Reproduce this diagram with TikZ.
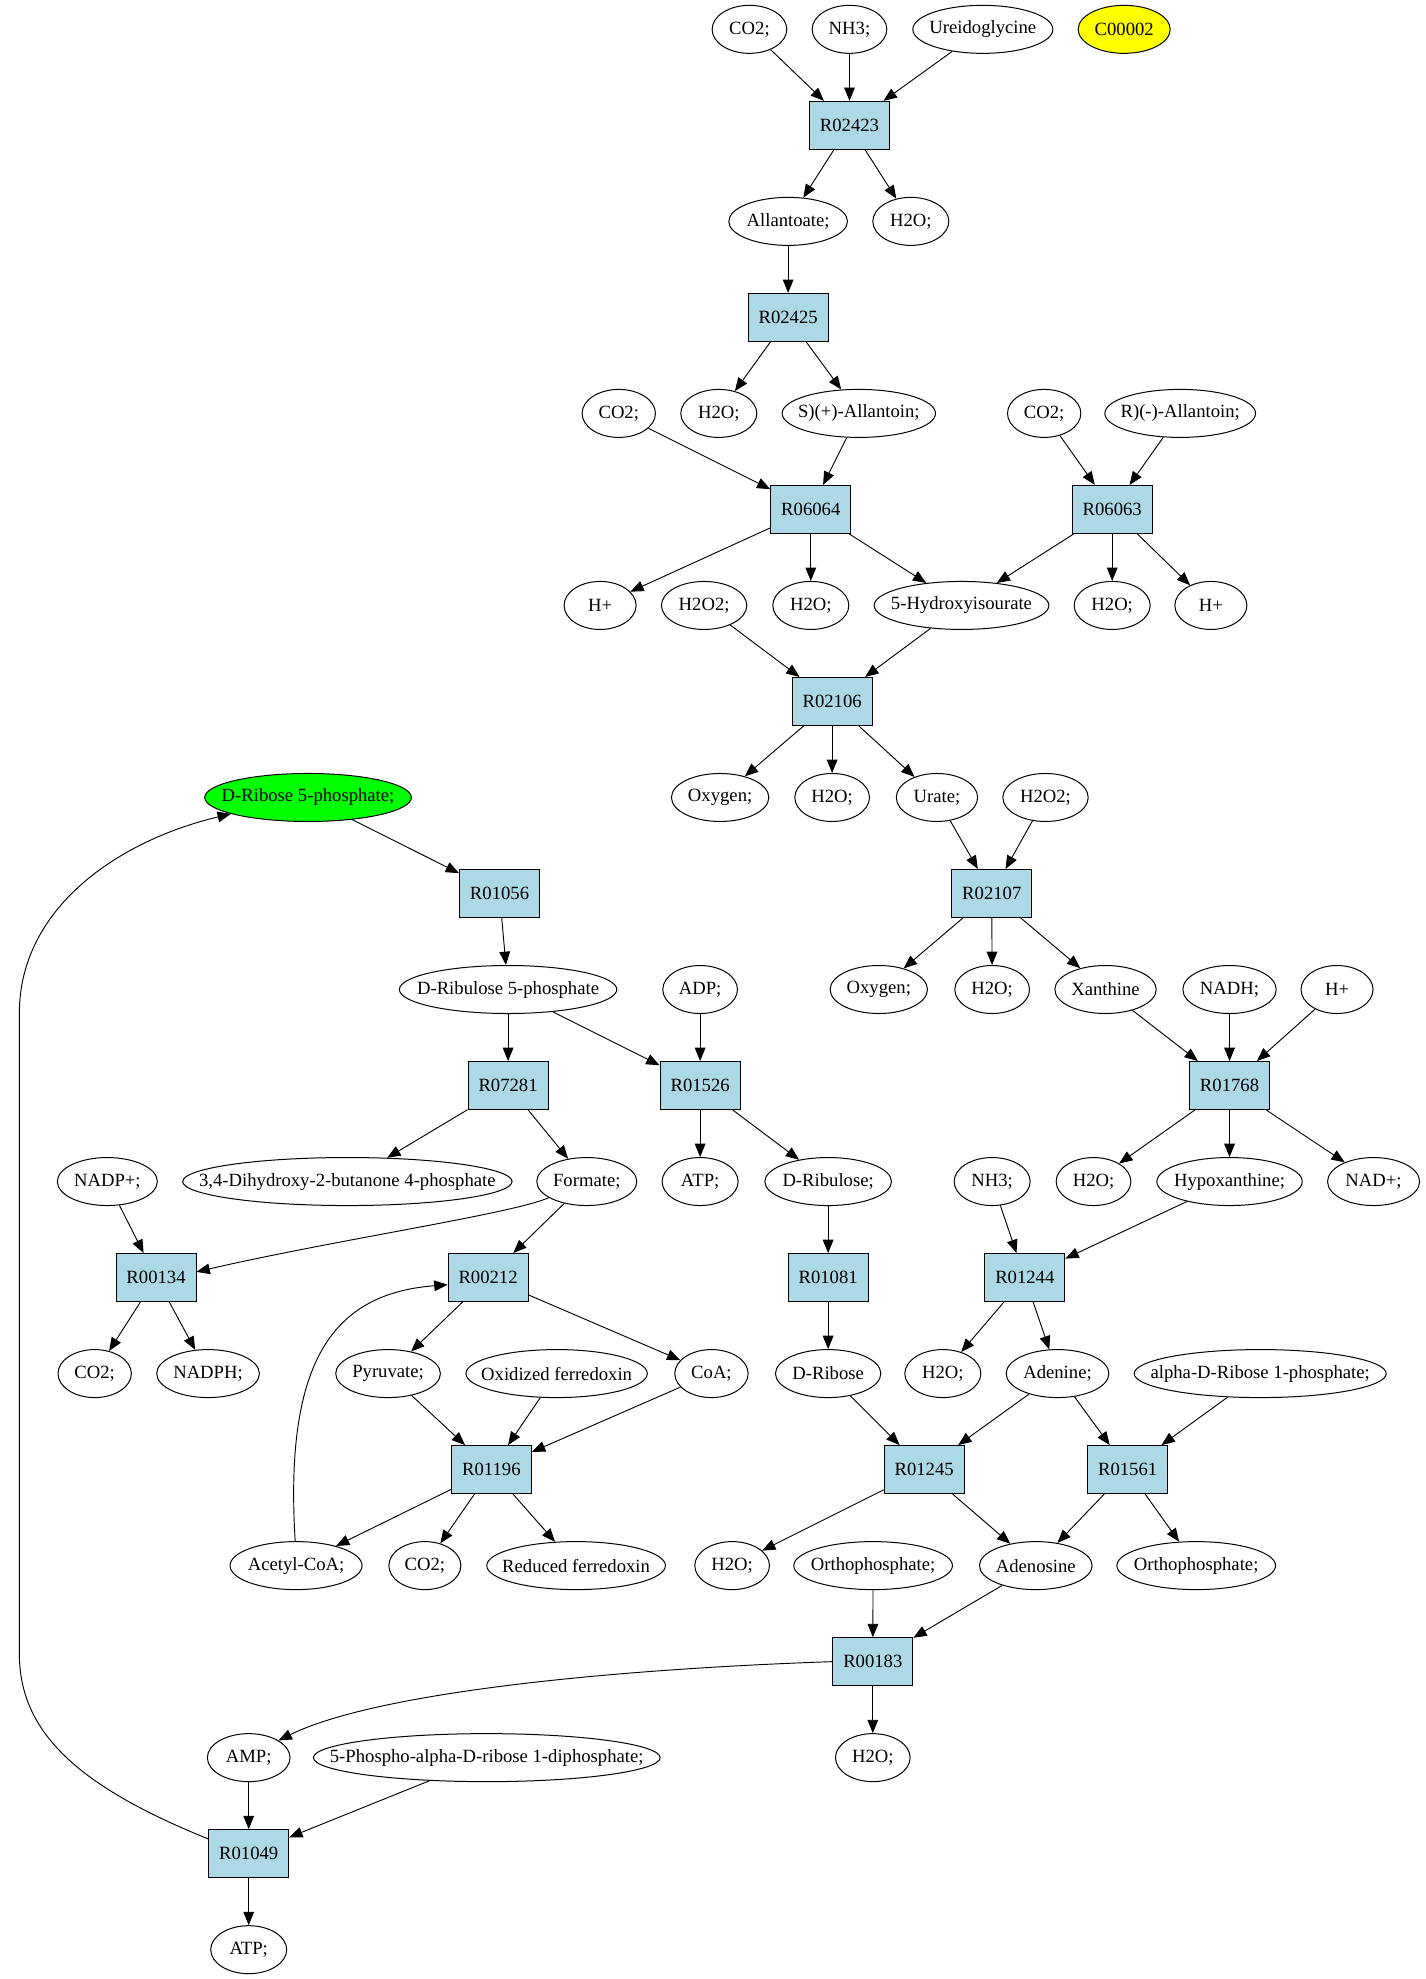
\documentclass[tikz,border=0pt]{standalone}
\usepackage{fontspec}
\setmainfont{Liberation Serif}
\usetikzlibrary{shapes.geometric,arrows.meta}
\definecolor{lblue}{HTML}{ADD8E6}
\definecolor{gvgreen}{HTML}{00FF00}
\definecolor{gvyellow}{HTML}{FFFF00}
\tikzset{
  met/.style={ellipse, draw, line width=0.75pt, minimum height=36pt, inner sep=0pt, font=\fontsize{14}{16}\selectfont},
  rxn/.style={rectangle, draw, fill=lblue, line width=0.75pt, minimum width=60pt, minimum height=36pt, inner sep=0pt, font=\fontsize{14}{16}\selectfont},
  arr/.style={-{Triangle[length=10pt,width=8pt]}, line width=0.7pt}
}
\newcommand\mtb[6][]{\node[met,minimum width=#5pt,#1] (#2) at (#3,#4) {\makebox[0pt]{#6}};}
\newcommand\rxb[3]{\node[rxn] (#1) at (#2,#3) {#1};}
\begin{document}
\begin{tikzpicture}[x=1pt,y=-1pt]
\fill[white] (0,0) rectangle (1068.75,1484);
\useasboundingbox (0,0) rectangle (1068.75,1484);
% rank 0
\mtb{co2a}{562}{22}{56}{CO2;}
\mtb{nh3a}{637}{22}{56}{NH3;}
\mtb{ureido}{737}{22}{105}{Ureidoglycine}
\mtb[fill=gvyellow]{c00002}{843}{22}{69}{C00002}
% rank 1
\rxb{R02423}{637}{94}
% rank 2
\mtb{allantoate}{591}{166}{89}{Allantoate;}
\mtb{h2oa}{683}{166}{57}{H2O;}
% rank 3
\rxb{R02425}{591}{238}
% rank 4
\mtb{co2b}{464}{310}{55}{CO2;}
\mtb{h2ob}{539}{310}{57}{H2O;}
\mtb{sallantoin}{644}{310}{115}{S)(+)-Allantoin;}
\mtb{co2c}{783}{310}{55}{CO2;}
\mtb{rallantoin}{885}{310}{113}{R)(-)-Allantoin;}
% rank 5
\rxb{R06064}{608}{382}
\rxb{R06063}{834}{382}
% rank 6
\mtb{hpa}{450}{454}{54}{H+}
\mtb{h2o2a}{528}{454}{64}{H2O2;}
\mtb{h2oc}{608}{454}{57}{H2O;}
\mtb{hydroxy}{721}{454}{131}{5-Hydroxyisourate}
\mtb{h2od}{834}{454}{57}{H2O;}
\mtb{hpb}{908}{454}{54}{H+}
% rank 7
\rxb{R02106}{624}{526}
% rank 8
\mtb[fill=gvgreen]{ribosefp}{231}{598}{155}{D-Ribose 5-phosphate;}
\mtb{oxya}{540}{598}{73}{Oxygen;}
\mtb{h2oe}{624}{598}{56}{H2O;}
\mtb{urate}{702.6}{598}{61}{Urate;}
\mtb{h2o2b}{784}{598}{64}{H2O2;}
% rank 9
\rxb{R01056}{374.6}{670}
\rxb{R02107}{743.7}{670}
% rank 10
\mtb{ribulosefp}{381}{742}{163}{D-Ribulose 5-phosphate}
\mtb{adp}{525}{742}{56}{ADP;}
\mtb{oxyb}{659}{742}{73}{Oxygen;}
\mtb{h2of}{744}{742}{56}{H2O;}
\mtb{xanthine}{829}{742}{76}{Xanthine}
\mtb{nadh}{922}{742}{70}{NADH;}
\mtb{hpc}{1002.6}{742}{54}{H+}
% rank 11
\rxb{R07281}{381}{814}
\rxb{R01526}{525}{814}
\rxb{R01768}{922}{814}
% rank 12
\mtb{nadpp}{80.5}{886}{75}{NADP+;}
\mtb{dihydroxy}{260.5}{886}{247}{3,4-Dihydroxy-2-butanone 4-phosphate}
\mtb{formate}{440}{886}{75}{Formate;}
\mtb{atpa}{525}{886}{57}{ATP;}
\mtb{ribulose}{621}{886}{95}{D-Ribulose;}
\mtb{nh3b}{744}{886}{57}{NH3;}
\mtb{h2og}{820}{886}{56}{H2O;}
\mtb{hypox}{922}{886}{109}{Hypoxanthine;}
\mtb{nadp}{1030}{886}{69}{NAD+;}
% rank 13
\rxb{R00134}{117}{958}
\rxb{R00212}{366}{958}
\rxb{R01081}{621}{958}
\rxb{R01244}{768.5}{958}
% rank 14
\mtb{co2d}{71}{1030}{55}{CO2;}
\mtb{nadph}{156}{1030}{77}{NADPH;}
\mtb{pyruvate}{291}{1030}{78.5}{Pyruvate;}
\mtb{oxfd}{417.4}{1030}{136}{Oxidized ferredoxin}
\mtb{coa}{533.5}{1030}{55}{CoA;}
\mtb{ribose}{621}{1030}{79}{D-Ribose}
\mtb{h2oh}{707}{1030}{57}{H2O;}
\mtb{adenine}{793}{1030}{77}{Adenine;}
\mtb{alpha}{945}{1030}{189}{alpha-D-Ribose 1-phosphate;}
% rank 15
\rxb{R01196}{368.5}{1102}
\rxb{R01245}{693}{1102}
\rxb{R01561}{845.6}{1102}
% rank 16
\mtb{acetyl}{222}{1174}{99}{Acetyl-CoA;}
\mtb{co2e}{318.6}{1174}{54}{CO2;}
\mtb{redfd}{432}{1174}{134}{Reduced ferredoxin}
\mtb{h2oi}{549}{1174}{56}{H2O;}
\mtb{orthoa}{654.7}{1174}{119}{Orthophosphate;}
\mtb{adenosine}{776.7}{1174}{84.5}{Adenosine}
\mtb{orthob}{897}{1174}{119}{Orthophosphate;}
% rank 17
\rxb{R00183}{654.5}{1246}
% rank 18
\mtb{amp}{186.5}{1318}{62}{AMP;}
\mtb{phospho}{365}{1318}{260}{5-Phospho-alpha-D-ribose 1-diphosphate;}
\mtb{h2oj}{654.5}{1318}{56}{H2O;}
% rank 19
\rxb{R01049}{186.5}{1390}
% rank 20
\mtb{atpb}{186.5}{1462}{57}{ATP;}
% edges
\draw[arr] (co2a) -- (R02423);
\draw[arr] (nh3a) -- (R02423);
\draw[arr] (ureido) -- (R02423);
\draw[arr] (R02423) -- (allantoate);
\draw[arr] (R02423) -- (h2oa);
\draw[arr] (allantoate) -- (R02425);
\draw[arr] (R02425) -- (h2ob);
\draw[arr] (R02425) -- (sallantoin);
\draw[arr] (co2b) -- (R06064);
\draw[arr] (sallantoin) -- (R06064);
\draw[arr] (co2c) -- (R06063);
\draw[arr] (rallantoin) -- (R06063);
\draw[arr] (R06064) -- (hpa);
\draw[arr] (R06064) -- (h2oc);
\draw[arr] (R06064) -- (hydroxy);
\draw[arr] (R06063) -- (hydroxy);
\draw[arr] (R06063) -- (h2od);
\draw[arr] (R06063) -- (hpb);
\draw[arr] (h2o2a) -- (R02106);
\draw[arr] (hydroxy) -- (R02106);
\draw[arr] (R02106) -- (oxya);
\draw[arr] (R02106) -- (h2oe);
\draw[arr] (R02106) -- (urate);
\draw[arr] (urate) -- (R02107);
\draw[arr] (h2o2b) -- (R02107);
\draw[arr] (R02107) -- (oxyb);
\draw[arr] (R02107) -- (h2of);
\draw[arr] (R02107) -- (xanthine);
\draw[arr] (xanthine) -- (R01768);
\draw[arr] (nadh) -- (R01768);
\draw[arr] (hpc) -- (R01768);
\draw[arr] (R01768) -- (h2og);
\draw[arr] (R01768) -- (hypox);
\draw[arr] (R01768) -- (nadp);
\draw[arr] (hypox) -- (R01244);
\draw[arr] (nh3b) -- (R01244);
\draw[arr] (R01244) -- (h2oh);
\draw[arr] (R01244) -- (adenine);
\draw[arr] (adenine) -- (R01245);
\draw[arr] (adenine) -- (R01561);
\draw[arr] (alpha) -- (R01561);
\draw[arr] (ribose) -- (R01245);
\draw[arr] (R01245) -- (h2oi);
\draw[arr] (R01245) -- (adenosine);
\draw[arr] (R01561) -- (adenosine);
\draw[arr] (R01561) -- (orthob);
\draw[arr] (orthoa) -- (R00183);
\draw[arr] (adenosine) -- (R00183);
\draw[arr] (R00183.west) .. controls (450,1252) and (280,1270) .. (amp.30);
\draw[arr] (R00183) -- (h2oj);
\draw[arr] (amp) -- (R01049);
\draw[arr] (phospho) -- (R01049);
\draw[arr] (R01049) -- (atpb);
\draw[arr] (R01049.160) .. controls (60,1340) and (14.5,1300) .. (14.5,1240) -- (14.5,760) .. controls (14.5,680) and (90,630) .. (ribosefp.192);
\draw[arr] (ribosefp) -- (R01056);
\draw[arr] (R01056) -- (ribulosefp);
\draw[arr] (ribulosefp) -- (R07281);
\draw[arr] (ribulosefp) -- (R01526);
\draw[arr] (adp) -- (R01526);
\draw[arr] (R07281) -- (dihydroxy);
\draw[arr] (R07281) -- (formate);
\draw[arr] (R01526) -- (atpa);
\draw[arr] (R01526) -- (ribulose);
\draw[arr] (ribulose) -- (R01081);
\draw[arr] (R01081) -- (ribose);
\draw[arr] (nadpp) -- (R00134);
\draw[arr] (formate.203) .. controls (385,910) and (250,930) .. (R00134.8);
\draw[arr] (formate) -- (R00212);
\draw[arr] (R00134) -- (co2d);
\draw[arr] (R00134) -- (nadph);
\draw[arr] (R00212) -- (pyruvate);
\draw[arr] (R00212) -- (coa);
\draw[arr] (pyruvate) -- (R01196);
\draw[arr] (oxfd) -- (R01196);
\draw[arr] (coa) -- (R01196);
\draw[arr] (R01196) -- (acetyl);
\draw[arr] (R01196) -- (co2e);
\draw[arr] (R01196) -- (redfd);
\draw[arr] (acetyl.92) .. controls (213,1020) and (250,970) .. (R00212.190);
\end{tikzpicture}
\end{document}
